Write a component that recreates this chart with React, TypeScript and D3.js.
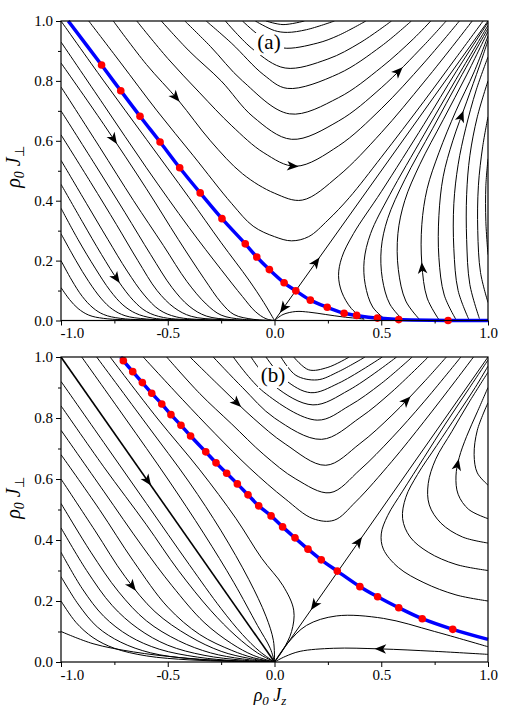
import React, { useRef, useEffect } from "react";
import * as d3 from "d3";

type Pt = [number, number];
type Arrow = [number, number, number]; // x, y, +1 along the line order / -1 against it

const serif = '"Liberation Serif", "Times New Roman", Times, serif';

const xTicks = [-1, -0.5, 0, 0.5, 1];
const xMinor = [-0.75, -0.25, 0.25, 0.75];
const yTicks = [0, 0.2, 0.4, 0.6, 0.8, 1];
const yMinor = [0.1, 0.3, 0.5, 0.7, 0.9];

// ---------- panel (a) ----------
const dotsA: Pt[] = [
  [-0.81, 0.853], [-0.72, 0.767], [-0.63, 0.682], [-0.536, 0.596], [-0.444, 0.51],
  [-0.348, 0.426], [-0.246, 0.34], [-0.137, 0.256], [-0.083, 0.212], [-0.024, 0.17],
  [0.045, 0.126], [0.1, 0.099], [0.168, 0.068], [0.247, 0.044], [0.326, 0.024],
  [0.385, 0.017], [0.482, 0.008], [0.582, 0.003], [0.813, 0.0],
];
const blueA: Pt[] = [[-0.966, 1], ...dotsA, [1, 0]];

const leftA: Pt[][] = [
  [[-1, 1], [-0.8, 0.8], [-0.6, 0.605], [-0.4, 0.41], [-0.25, 0.26], [-0.12, 0.135], [-0.05, 0.06], [0, 0]],
  [[-1, 0.93], [-0.8, 0.72], [-0.6, 0.51], [-0.4, 0.31], [-0.25, 0.17], [-0.15, 0.08], [-0.09, 0.03], [-0.04, 0.006], [0, 0]],
  [[-1, 0.86], [-0.8, 0.655], [-0.6, 0.44], [-0.45, 0.27], [-0.33, 0.14], [-0.25, 0.06], [-0.19, 0.02], [-0.1, 0.004], [0, 0]],
  [[-1, 0.78], [-0.82, 0.58], [-0.66, 0.4], [-0.52, 0.25], [-0.41, 0.13], [-0.32, 0.055], [-0.25, 0.018], [-0.15, 0.004], [0, 0]],
  [[-1, 0.7], [-0.84, 0.52], [-0.7, 0.36], [-0.58, 0.22], [-0.48, 0.11], [-0.4, 0.048], [-0.32, 0.015], [-0.2, 0.003], [0, 0]],
  [[-1, 0.62], [-0.86, 0.46], [-0.74, 0.32], [-0.64, 0.2], [-0.55, 0.1], [-0.47, 0.043], [-0.39, 0.014], [-0.25, 0.003], [0, 0]],
  [[-1, 0.535], [-0.88, 0.39], [-0.78, 0.27], [-0.69, 0.165], [-0.61, 0.085], [-0.54, 0.036], [-0.46, 0.012], [-0.3, 0.002], [0, 0]],
  [[-1, 0.455], [-0.9, 0.33], [-0.81, 0.22], [-0.73, 0.13], [-0.66, 0.066], [-0.6, 0.03], [-0.52, 0.01], [-0.35, 0.002], [0, 0]],
  [[-1, 0.375], [-0.92, 0.27], [-0.84, 0.175], [-0.77, 0.1], [-0.71, 0.052], [-0.65, 0.024], [-0.57, 0.008], [-0.4, 0.001], [0, 0]],
  [[-1, 0.29], [-0.93, 0.2], [-0.87, 0.13], [-0.81, 0.072], [-0.76, 0.038], [-0.7, 0.016], [-0.6, 0.005], [-0.4, 0.001], [0, 0]],
  [[-1, 0.2], [-0.95, 0.135], [-0.9, 0.08], [-0.85, 0.042], [-0.8, 0.02], [-0.72, 0.007], [-0.5, 0.001], [0, 0]],
  [[-1, 0.11], [-0.96, 0.07], [-0.92, 0.04], [-0.87, 0.018], [-0.8, 0.007], [-0.6, 0.001], [0, 0]],
];

const upperA: Pt[][] = [
  [[-0.87, 1], [-0.72, 0.86], [-0.55, 0.7], [-0.38, 0.55], [-0.2, 0.39], [-0.1, 0.315], [0.0, 0.28], [0.08, 0.266], [0.16, 0.28], [0.25, 0.335], [0.35, 0.41], [0.5, 0.545], [0.7, 0.732], [0.85, 0.877], [0.977, 1]],
  [[-0.755, 1], [-0.6, 0.855], [-0.45, 0.735], [-0.3, 0.6], [-0.15, 0.49], [0, 0.425], [0.13, 0.402], [0.3, 0.483], [0.5, 0.627], [0.7, 0.796], [0.85, 0.93], [0.926, 1]],
  [[-0.645, 1], [-0.5, 0.875], [-0.35, 0.76], [-0.2, 0.65], [-0.05, 0.56], [0.1, 0.515], [0.3, 0.583], [0.5, 0.707], [0.7, 0.86], [0.866, 1]],
  [[-0.53, 1], [-0.4, 0.9], [-0.25, 0.8], [-0.1, 0.68], [0.08, 0.605], [0.3, 0.666], [0.5, 0.777], [0.7, 0.919], [0.804, 1]],
  [[-0.42, 1], [-0.3, 0.915], [-0.15, 0.8], [0.07, 0.69], [0.3, 0.744], [0.5, 0.845], [0.65, 0.94], [0.732, 1]],
  [[-0.32, 1], [-0.2, 0.925], [-0.05, 0.82], [0.06, 0.775], [0.3, 0.824], [0.5, 0.916], [0.641, 1]],
  [[-0.23, 1], [-0.1, 0.905], [0.05, 0.843], [0.25, 0.873], [0.4, 0.927], [0.548, 1]],
  [[-0.15, 1], [-0.05, 0.94], [0.04, 0.91], [0.2, 0.926], [0.3, 0.952], [0.428, 1]],
  [[-0.09, 1], [0.0, 0.968], [0.06, 0.962], [0.15, 0.971], [0.281, 1]],
  [[-0.04, 1], [0.04, 0.988], [0.14, 1]],
];

const rightA: Pt[][] = [
  [[0.42, 0.004], [0.36, 0.04], [0.315, 0.095], [0.3, 0.15], [0.315, 0.21], [0.37, 0.29], [0.5, 0.43], [0.7, 0.655], [0.85, 0.83], [1, 0.995]],
  [[0.52, 0.003], [0.46, 0.045], [0.425, 0.12], [0.42, 0.2], [0.45, 0.29], [0.54, 0.42], [0.7, 0.62], [0.85, 0.805], [1, 0.985]],
  [[0.6, 0.003], [0.54, 0.055], [0.505, 0.14], [0.5, 0.24], [0.53, 0.34], [0.61, 0.47], [0.74, 0.64], [0.87, 0.81], [1, 0.975]],
  [[0.68, 0.003], [0.615, 0.065], [0.58, 0.17], [0.578, 0.29], [0.61, 0.4], [0.68, 0.52], [0.79, 0.67], [0.9, 0.82], [1, 0.965]],
  [[0.77, 0.003], [0.715, 0.075], [0.69, 0.19], [0.69, 0.32], [0.715, 0.44], [0.77, 0.56], [0.85, 0.7], [0.935, 0.83], [1, 0.95]],
  [[0.85, 0.003], [0.795, 0.085], [0.77, 0.21], [0.77, 0.35], [0.79, 0.48], [0.835, 0.6], [0.9, 0.73], [0.96, 0.85], [1, 0.935]],
  [[0.91, 0.004], [0.86, 0.1], [0.84, 0.24], [0.84, 0.39], [0.86, 0.52], [0.895, 0.64], [0.945, 0.77], [1, 0.88]],
  [[0.96, 0.006], [0.915, 0.12], [0.9, 0.27], [0.9, 0.42], [0.915, 0.55], [0.95, 0.68], [1, 0.8]],
  [[1, 0.06], [0.965, 0.16], [0.952, 0.3], [0.955, 0.45], [0.975, 0.58], [1, 0.68]],
  [[1, 0.22], [0.99, 0.33], [0.99, 0.45], [1, 0.54]],
];

const diagA: Pt[] = [[0, 0], [1, 1]];
const nearAxisA: Pt[] = [[0, 0], [0.04, 0.02], [0.1, 0.03], [0.16, 0.028], [0.24, 0.02], [0.32, 0.012], [0.42, 0.005]];

const arrowsA: Arrow[] = [
  [-0.458, 0.749, 1], [-0.763, 0.598, 1], [-0.724, 0.145, 1], [0.088, 0.517, 1],
  [0.596, 0.821, 1], [0.872, 0.687, 1], [0.697, 0.179, 1], [0.19, 0.196, 1], [0.041, 0.039, -1],
];

// ---------- panel (b) ----------
const dotsB: Pt[] = [
  [-0.708, 0.988], [-0.664, 0.952], [-0.619, 0.916], [-0.575, 0.881], [-0.528, 0.846],
  [-0.485, 0.811], [-0.438, 0.776], [-0.393, 0.741], [-0.322, 0.689], [-0.274, 0.653],
  [-0.224, 0.619], [-0.174, 0.584], [-0.124, 0.548], [-0.074, 0.512], [-0.016, 0.479],
  [0.038, 0.443], [0.096, 0.407], [0.157, 0.37], [0.219, 0.335], [0.294, 0.298],
  [0.4, 0.247], [0.483, 0.214], [0.582, 0.178], [0.692, 0.142], [0.835, 0.107],
];
const blueB: Pt[] = [[-0.72, 1], ...dotsB, [1, 0.074]];

const antiB: Pt[] = [[-1, 1], [0, 0]];

const leftB: Pt[][] = [
  [[-1, 0.92], [-0.8, 0.72], [-0.6, 0.52], [-0.4, 0.32], [-0.25, 0.175], [-0.15, 0.09], [-0.07, 0.035], [0, 0]],
  [[-1, 0.84], [-0.8, 0.64], [-0.6, 0.45], [-0.45, 0.3], [-0.3, 0.17], [-0.18, 0.085], [-0.08, 0.03], [0, 0]],
  [[-1, 0.76], [-0.8, 0.56], [-0.62, 0.38], [-0.48, 0.25], [-0.33, 0.13], [-0.2, 0.06], [-0.1, 0.022], [0, 0]],
  [[-1, 0.68], [-0.82, 0.5], [-0.66, 0.33], [-0.5, 0.18], [-0.35, 0.09], [-0.2, 0.038], [-0.1, 0.014], [0, 0]],
  [[-1, 0.6], [-0.84, 0.43], [-0.7, 0.28], [-0.56, 0.165], [-0.4, 0.085], [-0.25, 0.035], [-0.12, 0.012], [0, 0]],
  [[-1, 0.52], [-0.86, 0.36], [-0.73, 0.23], [-0.6, 0.135], [-0.45, 0.07], [-0.3, 0.03], [-0.15, 0.01], [0, 0]],
  [[-1, 0.44], [-0.88, 0.3], [-0.76, 0.185], [-0.64, 0.11], [-0.5, 0.055], [-0.33, 0.022], [-0.15, 0.006], [0, 0]],
  [[-1, 0.36], [-0.9, 0.24], [-0.8, 0.15], [-0.68, 0.085], [-0.54, 0.042], [-0.36, 0.016], [-0.18, 0.004], [0, 0]],
  [[-1, 0.28], [-0.92, 0.19], [-0.83, 0.115], [-0.72, 0.065], [-0.58, 0.03], [-0.4, 0.011], [-0.2, 0.003], [0, 0]],
  [[-1, 0.2], [-0.93, 0.13], [-0.85, 0.08], [-0.75, 0.045], [-0.6, 0.02], [-0.4, 0.007], [-0.2, 0.002], [0, 0]],
  [[-1, 0.1], [-0.85, 0.06], [-0.66, 0.033], [-0.45, 0.015], [-0.25, 0.005], [0, 0]],
];

const midB: Pt[][] = [
  [[-0.903, 1], [-0.7, 0.8], [-0.5, 0.6], [-0.33, 0.42], [-0.19, 0.26], [-0.08, 0.12], [-0.02, 0.045], [0, 0]],
  [[-0.833, 1], [-0.6, 0.78], [-0.4, 0.59], [-0.25, 0.43], [-0.12, 0.27], [-0.04, 0.15], [-0.005, 0.07], [0, 0]],
  [[-0.77, 1], [-0.55, 0.8], [-0.35, 0.63], [-0.18, 0.47], [-0.06, 0.34], [0.04, 0.25], [0.09, 0.17], [0.08, 0.1], [0.04, 0.04], [0, 0]],
];

const upperB: Pt[][] = [
  [[-0.615, 1], [-0.43, 0.86], [-0.28, 0.75], [-0.115, 0.635], [0.05, 0.535], [0.18, 0.47], [0.28, 0.465], [0.38, 0.525], [0.55, 0.658], [0.7, 0.788], [0.85, 0.924], [0.932, 1]],
  [[-0.505, 1], [-0.35, 0.88], [-0.2, 0.78], [-0.05, 0.68], [0.1, 0.6], [0.26, 0.555], [0.4, 0.63], [0.55, 0.735], [0.7, 0.853], [0.873, 1]],
  [[-0.396, 1], [-0.25, 0.9], [-0.1, 0.8], [0.05, 0.715], [0.24, 0.645], [0.4, 0.716], [0.55, 0.809], [0.7, 0.918], [0.805, 1]],
  [[-0.287, 1], [-0.15, 0.9], [0.0, 0.8], [0.22, 0.73], [0.4, 0.801], [0.55, 0.886], [0.72, 1]],
  [[-0.193, 1], [-0.05, 0.885], [0.2, 0.793], [0.35, 0.84], [0.5, 0.913], [0.645, 1]],
  [[-0.11, 1], [0.0, 0.905], [0.18, 0.843], [0.35, 0.892], [0.572, 1]],
  [[-0.04, 1], [0.05, 0.925], [0.17, 0.883], [0.3, 0.914], [0.505, 1]],
  [[0.03, 1], [0.1, 0.94], [0.2, 0.925], [0.3, 0.952], [0.424, 1]],
  [[0.09, 1], [0.16, 0.958], [0.25, 0.966], [0.35, 1]],
];

const rightB: Pt[][] = [
  [[1, 0.2], [0.85, 0.22], [0.7, 0.26], [0.58, 0.31], [0.51, 0.37], [0.5, 0.42], [0.53, 0.48], [0.6, 0.56], [0.7, 0.67], [0.8, 0.78], [0.9, 0.885], [1, 0.99]],
  [[1, 0.3], [0.85, 0.32], [0.72, 0.36], [0.635, 0.41], [0.6, 0.47], [0.615, 0.54], [0.67, 0.615], [0.76, 0.71], [0.86, 0.815], [0.94, 0.9], [1, 0.97]],
  [[1, 0.39], [0.88, 0.41], [0.78, 0.455], [0.725, 0.515], [0.72, 0.585], [0.755, 0.665], [0.83, 0.755], [0.91, 0.85], [1, 0.95]],
  [[1, 0.47], [0.91, 0.5], [0.86, 0.55], [0.85, 0.61], [0.865, 0.67], [0.9, 0.74], [0.95, 0.82], [1, 0.9]],
  [[1, 0.58], [0.95, 0.62], [0.935, 0.68], [0.95, 0.76], [1, 0.85]],
];

const lowB: Pt[][] = [
  [[1, 0.05], [0.75, 0.1], [0.51, 0.143], [0.29, 0.151], [0.15, 0.12], [0.06, 0.06], [0, 0]],
  [[1, 0.025], [0.75, 0.035], [0.494, 0.043], [0.277, 0.045], [0.12, 0.035], [0.05, 0.018], [0, 0]],
];
const diagB: Pt[] = [[0, 0], [1, 1]];

const arrowsB: Arrow[] = [
  [-0.154, 0.865, 1], [0.596, 0.87, 1], [-0.599, 0.591, 1], [-0.669, 0.247, 1],
  [0.872, 0.646, 1], [0.494, 0.042, 1], [0.393, 0.394, 1], [0.182, 0.187, -1],
];

const drawPanel = (svg: any, p: any) => {
  const x = d3.scaleLinear().domain([-1, 1]).range([61, 488]);
  const y = d3.scaleLinear().domain([0, 1]).range([p.bottom, p.top]);
  const g = svg.append("g");

  g.append("clipPath").attr("id", p.id).append("rect")
    .attr("x", x(-1)).attr("y", y(1))
    .attr("width", x(1) - x(-1)).attr("height", y(0) - y(1));

  const line = d3.line<Pt>().x(d => x(d[0])).y(d => y(d[1]))
    .curve(d3.curveCatmullRom.alpha(0.5));

  const plot = g.append("g").attr("clip-path", `url(#${p.id})`);
  const nodes: SVGPathElement[] = [];
  p.flows.forEach((pts: Pt[]) => {
    nodes.push(plot.append("path").attr("d", line(pts)).attr("fill", "none")
      .attr("stroke", "#000").attr("stroke-width", 1).node());
  });
  (p.thick || []).forEach((pts: Pt[]) => {
    nodes.push(plot.append("path").attr("d", line(pts)).attr("fill", "none")
      .attr("stroke", "#000").attr("stroke-width", 1.6).node());
  });

  // blue separatrix + red dots
  g.append("path").attr("d", line(p.blue)).attr("fill", "none")
    .attr("stroke", "#0000ff").attr("stroke-width", 3.5);
  g.selectAll(".dot").data(p.dots).enter().append("circle")
    .attr("cx", (d: Pt) => x(d[0])).attr("cy", (d: Pt) => y(d[1]))
    .attr("r", 3.8).attr("fill", "#ff0000");

  // arrowheads sit on the nearest flow line, oriented along it
  p.arrows.forEach(([ax, ay, dir]: Arrow) => {
    const tx = x(ax), ty = y(ay);
    let best = { d: Infinity, n: null as any, l: 0 };
    nodes.forEach(n => {
      const L = n.getTotalLength();
      for (let l = 0; l <= L; l += 1.5) {
        const q = n.getPointAtLength(l);
        const d = (q.x - tx) ** 2 + (q.y - ty) ** 2;
        if (d < best.d) best = { d, n, l };
      }
    });
    const n = best.n;
    const L = n.getTotalLength();
    const q = n.getPointAtLength(best.l);
    const a = n.getPointAtLength(Math.max(0, best.l - 3));
    const b = n.getPointAtLength(Math.min(L, best.l + 3));
    let ang = (Math.atan2(b.y - a.y, b.x - a.x) * 180) / Math.PI;
    if (dir < 0) ang += 180;
    g.append("path").attr("d", "M5.5,0L-6,-4.8L-3,0L-6,4.8Z")
      .attr("transform", `translate(${q.x},${q.y}) rotate(${ang})`)
      .attr("fill", "#000");
  });

  // panel label with white backing
  g.append("rect").attr("x", p.labelX - 15).attr("y", p.labelY - 16)
    .attr("width", 30).attr("height", 22).attr("fill", "#fff");
  g.append("text").attr("x", p.labelX).attr("y", p.labelY)
    .attr("text-anchor", "middle").attr("font-family", serif).attr("font-size", 21)
    .text(p.label);

  // frame
  g.append("rect").attr("x", x(-1)).attr("y", y(1))
    .attr("width", x(1) - x(-1)).attr("height", y(0) - y(1))
    .attr("fill", "none").attr("stroke", "#000").attr("stroke-width", 1.2);

  const fmt = (v: any) => (+v).toFixed(1);
  const xa = g.append("g").attr("transform", `translate(0,${y(0)})`)
    .call(d3.axisBottom(x).tickValues(xTicks).tickSize(5).tickSizeOuter(0).tickPadding(2).tickFormat(fmt));
  const xm = g.append("g").attr("transform", `translate(0,${y(0)})`)
    .call(d3.axisBottom(x).tickValues(xMinor).tickSize(3).tickSizeOuter(0).tickFormat(() => ""));
  const ya = g.append("g").attr("transform", `translate(${x(-1)},0)`)
    .call(d3.axisLeft(y).tickValues(yTicks).tickSize(5).tickSizeOuter(0).tickPadding(3).tickFormat(fmt));
  const ym = g.append("g").attr("transform", `translate(${x(-1)},0)`)
    .call(d3.axisLeft(y).tickValues(yMinor).tickSize(3).tickSizeOuter(0).tickFormat(() => ""));
  [xa, xm, ya, ym].forEach(s => {
    s.select(".domain").remove();
    s.attr("font-family", serif).attr("font-size", 15);
    s.selectAll("text").attr("fill", "#000").attr("font-family", serif).attr("font-size", 15);
  });
  xa.selectAll("text").filter((d: any) => d === -1).attr("text-anchor", "start").attr("x", -1);

  // y title
  const yt = svg.append("text")
    .attr("transform", `translate(20,${p.titleY}) rotate(-90)`)
    .attr("text-anchor", "middle").attr("font-family", serif).attr("font-size", 20);
  yt.append("tspan").attr("font-style", "italic").text("ρ");
  yt.append("tspan").attr("font-style", "italic").attr("font-size", 14).attr("dy", 4).text("0");
  yt.append("tspan").attr("dy", -4).text(" ");
  yt.append("tspan").attr("font-style", "italic").text("J");
  yt.append("tspan").attr("font-size", 13).attr("dy", 4).text("⊥");
};

const App = () => {
  const ref = useRef<SVGSVGElement>(null);

  useEffect(() => {
    const svg = d3.select(ref.current);
    svg.selectAll("*").remove();

    drawPanel(svg, {
      id: "clipA", top: 21, bottom: 320.5, label: "(a)", labelX: 269, labelY: 49, titleY: 167,
      flows: [...leftA, ...upperA, ...rightA, diagA, nearAxisA],
      blue: blueA, dots: dotsA, arrows: arrowsA,
    });
    drawPanel(svg, {
      id: "clipB", top: 357, bottom: 662, label: "(b)", labelX: 273, labelY: 382, titleY: 498,
      flows: [...leftB, ...midB, ...upperB, ...rightB, ...lowB, diagB],
      thick: [antiB],
      blue: blueB, dots: dotsB, arrows: arrowsB,
    });

    // x title
    const xt = svg.append("text").attr("x", 270).attr("y", 701)
      .attr("text-anchor", "middle").attr("font-family", serif).attr("font-size", 18);
    xt.append("tspan").attr("font-style", "italic").text("ρ");
    xt.append("tspan").attr("font-style", "italic").attr("font-size", 13).attr("dy", 4).text("0");
    xt.append("tspan").attr("dy", -4).attr("font-style", "italic").text(" J");
    xt.append("tspan").attr("font-style", "italic").attr("font-size", 13).attr("dy", 4).text("z");
  }, []);

  return (
    <svg
      ref={ref}
      width={509}
      height={713}
      style={{ position: "absolute", left: 0, top: 0, background: "#fff" }}
    />
  );
};

export default App;
